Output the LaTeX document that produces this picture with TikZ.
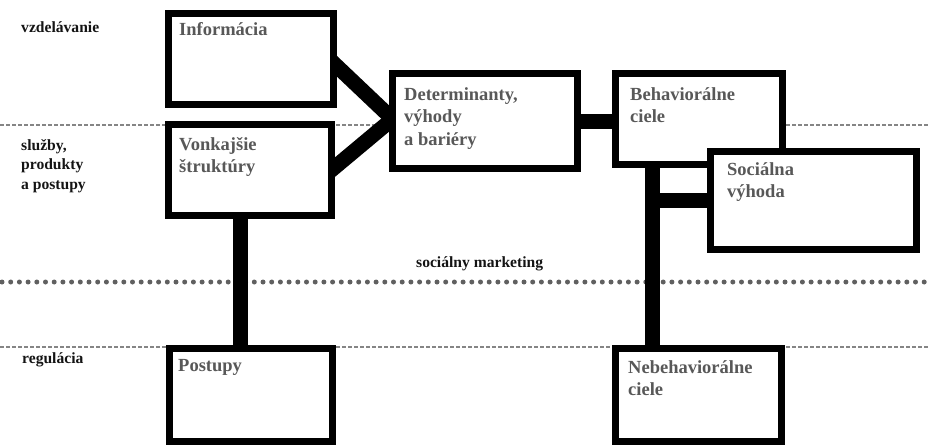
\documentclass[tikz,border=0pt]{standalone}
\usepackage{fontspec}
\setmainfont{Liberation Serif}
\usetikzlibrary{calc}
\pgfdeclarelayer{bg}
\pgfsetlayers{bg,main}
\definecolor{boxtext}{HTML}{585858}
\definecolor{sidetext}{HTML}{141414}
\definecolor{dashgrey}{HTML}{858585}
\definecolor{dotgrey}{HTML}{606060}
\tikzset{
  box/.style={draw=black, fill=white, line width=7pt, rectangle, inner sep=0pt, outer sep=0pt},
  conn/.style={draw=black, line width=15pt, line cap=butt},
  boxlabel/.style={anchor=base west, inner sep=0pt, text=boxtext, font=\fontsize{18.5}{22.5}\selectfont\bfseries},
  sidelabel/.style={anchor=base west, inner sep=0pt, text=sidetext, font=\fontsize{15.6}{19.5}\selectfont\bfseries},
  thindash/.style={draw=dashgrey, line width=1.2pt, dash pattern=on 4pt off 2pt},
  dotline/.style={draw=dotgrey, line width=5pt, line cap=round, dash pattern=on 0pt off 8.7pt}
}
\newcommand{\lines}[1]{\begin{tabular}[t]{@{}l@{}}#1\end{tabular}}
\begin{document}
\begin{tikzpicture}[x=1pt, y=-1pt]
  \useasboundingbox (0,0) rectangle (929,445);

  % boxes (centre, size = outer minus line width)
  \node[box, minimum width=165pt, minimum height=91pt] (inf) at (251,59) {};
  \node[box, minimum width=163pt, minimum height=91pt] (von) at (250,170) {};
  \node[box, minimum width=185pt, minimum height=95pt] (det) at (485,121) {};
  \node[box, minimum width=167pt, minimum height=91pt] (beh) at (699,119) {};
  \node[box, minimum width=206pt, minimum height=98pt] (soc) at (813.5,200.5) {};
  \node[box, minimum width=163pt, minimum height=93pt] (pos) at (251,395) {};
  \node[box, minimum width=166pt, minimum height=93pt] (neb) at (698.5,395) {};

  % guide lines on the background
  \begin{pgfonlayer}{bg}
    \coordinate (dl) at (0,125);
    \coordinate (dr) at (929,125);
    \coordinate (el) at (0,347);
    \coordinate (er) at (929,347);
    \coordinate (ml) at (2,282);
    \coordinate (mr) at (929,282);
    \draw[thindash] (dl) -- (dr);
    \draw[thindash] (el) -- (er);
    \draw[dotline] (ml) -- (mr);

    % connectors
    \coordinate (infE) at ([yshift=-4pt]inf.east);
    \coordinate (vonE) at (von.east);
    \coordinate (detW) at ([yshift=2pt]det.west);
    \draw[conn] ($(infE)!-12pt!(detW)$) -- ($(detW)!-12pt!(infE)$);
    \draw[conn] ($(vonE)!-12pt!(detW)$) -- ($(detW)!-12pt!(vonE)$);
    \draw[conn] (det.center) -- (det.center -| beh.center);
    \draw[conn] ([xshift=71.5pt]von.south west) -- ([xshift=71.5pt]von.south west |- pos.north);
    \draw[conn] ([xshift=36.5pt]beh.south west) -- ([xshift=36.5pt]beh.south west |- neb.north);
    \draw[conn] ([xshift=30pt]beh.south west |- soc.center) -- (soc.center);
  \end{pgfonlayer}

  % box labels
  \node[boxlabel] (infT) at (179,35) {\lines{Informácia}};
  \node[boxlabel] (vonT) at (179,150) {\lines{Vonkajšie\\štruktúry}};
  \node[boxlabel] (detT) at (404,100) {\lines{Determinanty,\\výhody\\a bariéry}};
  \node[boxlabel] (behT) at (630,100) {\lines{Behaviorálne\\ciele}};
  \node[boxlabel] (socT) at (727,175) {\lines{Sociálna\\výhoda}};
  \node[boxlabel] (posT) at (178,371) {\lines{Postupy}};
  \node[boxlabel] (nebT) at (628,373) {\lines{Nebehaviorálne\\ciele}};

  % side labels
  \node[sidelabel] (vzd) at (21,32) {vzdelávanie};
  \node[sidelabel] (slu) at (21,150) {\lines{služby,\\produkty\\a postupy}};
  \node[sidelabel] (smk) at (416,267) {sociálny marketing};
  \node[sidelabel] (reg) at (22,363) {regulácia};
\end{tikzpicture}
\end{document}
